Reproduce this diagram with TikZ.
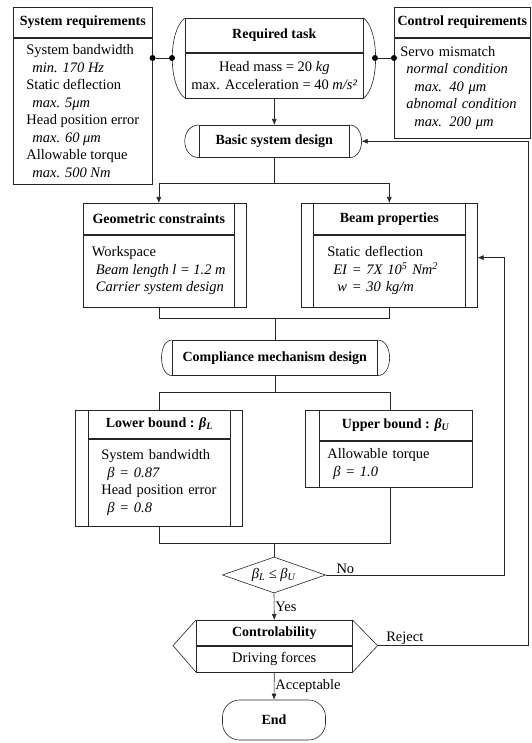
\documentclass[tikz,border=0pt]{standalone}
\usepackage{fontspec}
\setmainfont{Liberation Serif}
\usepackage{tikz}
\usetikzlibrary{arrows.meta,shapes.geometric,positioning,calc}
\newcommand{\hdfont}{\fontsize{14}{16}\selectfont\bfseries}
\newcommand{\bdfont}{\fontsize{14.5}{17.5}\selectfont}
\tikzset{
    head/.style={
        rectangle,
        draw=black!85,
        font=\hdfont,
        inner sep=0pt,
    },
    body/.style={
        rectangle,
        draw=black!85,
        font=\bdfont,
        align=left,
        inner ysep=0pt,
    },
    decision/.style={
        diamond,
        draw=black!85,
        font=\bdfont,
        inner sep=0pt,
        aspect=2.8,
        minimum width=103pt,
        minimum height=36pt,
    },
    terminal/.style={
        rectangle,
        rounded corners=17pt,
        draw=black!85,
        font=\hdfont,
        minimum width=103pt,
        minimum height=40pt,
    },
    conn/.style={
        draw=black!85,
    },
    conn-arrow/.style={
        draw=black!85,
        -{Latex[length=6pt,width=5pt]},
    },
    link-point/.style={
        circle,
        fill=black,
        inner sep=0pt,
        minimum size=6pt,
    },
    lbl/.style={
        font=\bdfont,
        inner sep=1pt,
    },
}

\begin{document}
\begin{tikzpicture}[x=1pt,y=-1pt,line width=0.6pt]
    \useasboundingbox (0,0) rectangle (531,743);

    % requirement lists left and right
    \node[head, minimum width=139pt, minimum height=30pt, anchor=north west] (sysH) at (13,7) {System requirements};
    \node[body, minimum width=139pt, minimum height=146pt, below=0pt of sysH] (sysB) {System bandwidth\\
        \hspace*{6pt}\textit{min. 170 Hz}\\
        Static deflection\\
        \hspace*{6pt}\textit{max. 5μm}\\
        Head position error\\
        \hspace*{6pt}\textit{max. 60 μm}\\
        Allowable torque\\
        \hspace*{6pt}\textit{max. 500 Nm}};
    \node[head, minimum width=136pt, minimum height=30pt, anchor=north west] (ctlH) at (394,7) {Control requirements};
    \node[body, text width=124pt, inner xsep=6pt, minimum height=100pt, below=0pt of ctlH] (ctlB) {Servo mismatch\\
        \hspace*{6pt}\textit{normal condition}\\
        \hspace*{14pt}\textit{max. 40 μm}\\
        \hspace*{6pt}\textit{abnomal condition}\\
        \hspace*{14pt}\textit{max. 200 μm}};

    % task in the middle
    \node[head, minimum width=178pt, minimum height=34pt, anchor=north west] (taskH) at (185,18) {Required task};
    \node[body, align=center, inner xsep=0pt, minimum width=178pt, minimum height=45pt, below=0pt of taskH] (taskB) {Head mass = 20 \textit{kg}\\max. Acceleration = 40 \textit{m/s²}};
    \draw[conn] (taskH.north west) .. controls +(-17,12) and +(-17,-12) .. (taskB.south west);
    \draw[conn] (taskH.north east) .. controls +(16,12) and +(16,-12) .. (taskB.south east);
    \coordinate (taskL) at (172,58);
    \coordinate (taskR) at (375,58);
    \node[link-point] (pSys) at (sysB.east |- taskL) {};
    \node[link-point] (pTaskL) at (taskL) {};
    \node[link-point] (pTaskR) at (taskR) {};
    \node[link-point] (pCtl) at (ctlB.west |- taskR) {};
    \draw[conn] (pSys) -- (pTaskL);
    \draw[conn] (pTaskR) -- (pCtl);

    % basic design
    \node[head, minimum width=150pt, minimum height=32pt, anchor=north west] (basic) at (199,125) {Basic system design};
    \draw[conn] (basic.north west) .. controls +(-19,0) and +(-19,0) .. (basic.south west);
    \draw[conn] (basic.north east) .. controls +(16,0) and +(16,0) .. (basic.south east);
    \coordinate (basicR) at ($(basic.east)+(12,0)$);
    \draw[conn-arrow] (taskB.south) -- (basic.north);

    % geometry and beam
    \node[head, minimum width=151pt, minimum height=31pt, anchor=north west] (geoH) at (83,203) {Geometric constraints};
    \node[body, minimum width=151pt, minimum height=72pt, below=0pt of geoH] (geoB) {Workspace\\
        \hspace*{4pt}\textit{Beam length l = 1.2 m}\\
        \hspace*{4pt}\textit{Carrier system design}};
    \draw[conn] (geoH.north east) -- ++(12,0) |- (geoB.south east);
    \node[head, minimum width=152pt, minimum height=31pt, anchor=north west] (beamH) at (313,203) {Beam properties};
    \node[body, text width=124pt, inner xsep=14pt, minimum height=72pt, below=0pt of beamH] (beamB) {Static deflection\\
        \hspace*{6pt}\textit{EI = 7X 10\textsuperscript{5} Nm\textsuperscript{2}}\\
        \hspace*{10pt}\textit{w = 30 kg/m}};
    \draw[conn] (beamH.north west) -- ++(-12,0) |- (beamB.south west);
    \draw[conn] (beamH.north east) -- ++(12,0) |- (beamB.south east);
    \coordinate (beamR) at ($(beamB.north east)+(12,23)$);
    \draw[conn] (basic.south) -- ++(0,26) coordinate (split1);
    \draw[conn-arrow] (split1) -| (geoH.north);
    \draw[conn-arrow] (split1) -| (beamH.north);

    % compliance mechanism
    \node[head, minimum width=205pt, minimum height=35pt, anchor=north west] (compl) at (172,340) {Compliance mechanism design};
    \draw[conn] (compl.north west) .. controls +(-14,0) and +(-14,0) .. (compl.south west);
    \draw[conn] (compl.north east) .. controls +(16,0) and +(16,0) .. (compl.south east);
    \draw[conn] (geoB.south) -- ++(0,11) coordinate (join1) -| (beamB.south);
    \draw[conn] (join1 -| compl.north) -- (compl.north);

    % bounds
    \node[head, minimum width=142pt, minimum height=28pt, anchor=north west] (lowH) at (88,410) {Lower bound : \textit{β}\textsubscript{\textit{L}}};
    \node[body, text width=116pt, inner xsep=13pt, minimum height=87pt, below=0pt of lowH] (lowB) {System bandwidth\\
        \hspace*{6pt}\textit{β = 0.87}\\
        Head position error\\
        \hspace*{6pt}\textit{β = 0.8}};
    \draw[conn] (lowH.north west) -- ++(-13,0) |- (lowB.south west);
    \draw[conn] (lowH.north east) -- ++(12,0) |- (lowB.south east);
    \node[head, minimum width=153pt, minimum height=30pt, anchor=north west] (upH) at (319,410) {Upper bound : \textit{β}\textsubscript{\textit{U}}};
    \node[body, text width=137pt, inner xsep=8pt, minimum height=46pt, below=0pt of upH] (upB) {Allowable torque\\
        \hspace*{6pt}\textit{β = 1.0}};
    \draw[conn] (upH.north west) -- ++(-14,0) |- (upB.south west);
    \draw[conn] (compl.south) -- ++(0,17) coordinate (split2);
    \draw[conn] (split2) -| (lowH.north);
    \draw[conn] (split2) -| ([xshift=-6pt]upH.north);

    % check and controlability
    \node[decision] (diam) at (274,575) {\textit{β}\textsubscript{\textit{L}} ≤ \textit{β}\textsubscript{\textit{U}}};
    \draw[conn] (lowB.south) -- ++(0,17) coordinate (join2) -| ([xshift=-6pt]upB.south);
    \draw[conn] (join2 -| diam.north) -- (diam.north);
    \node[head, minimum width=156pt, minimum height=25pt, anchor=north west] (ctrlH) at (196,620) {Controlability};
    \node[body, align=center, minimum width=156pt, minimum height=26pt, below=0pt of ctrlH] (ctrlB) {Driving forces};
    \coordinate (ctrlL) at ($(ctrlH.south west)+(-23,0)$);
    \coordinate (ctrlR) at ($(ctrlH.south east)+(25,0)$);
    \draw[conn] (ctrlH.north west) -- (ctrlL) -- (ctrlB.south west);
    \draw[conn] (ctrlH.north east) -- (ctrlR) -- (ctrlB.south east);
    \node[terminal] (fin) at (274,720) {End};

    \draw[conn-arrow] (diam.south) -- node[lbl, right] (yesLbl) {Yes} (ctrlH.north);
    \draw[conn-arrow] (ctrlB.south) -- node[lbl, right] (accLbl) {Acceptable} (fin.north);
    \draw[conn-arrow] (diam.east) -- node[lbl, above, pos=0.11] (noLbl) {No} ++(178,0) |- (beamR);
    \draw[conn-arrow] (ctrlR) -- node[lbl, above, pos=0.18] (rejLbl) {Reject} ++(151,0) |- (basicR);
\end{tikzpicture}
\end{document}
